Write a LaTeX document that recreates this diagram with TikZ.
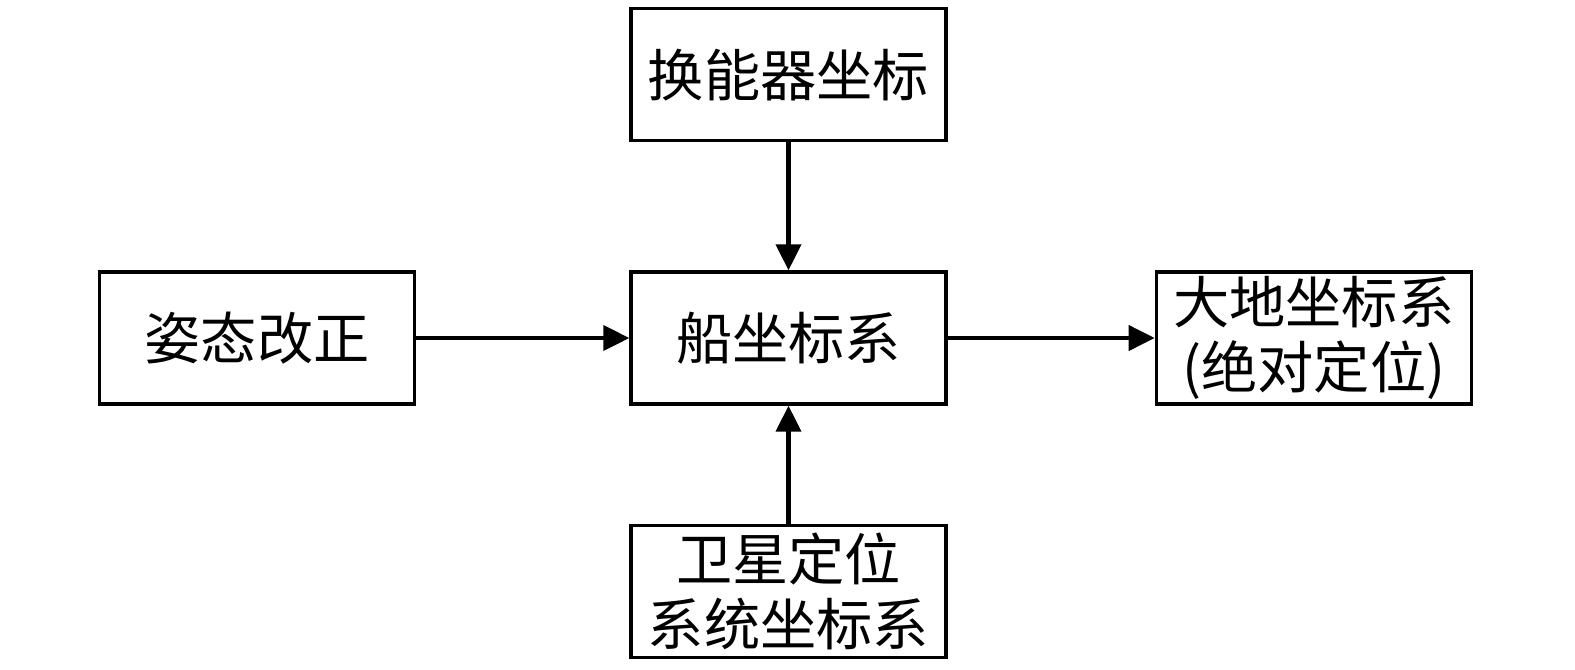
\documentclass[tikz,border=0pt]{standalone}
\usepackage{fontspec}
\newfontfamily\cjk{Noto Sans CJK SC}
\usetikzlibrary{positioning,arrows.meta}

\tikzset{
	coordbox/.style={draw, line width=1.9pt, minimum width=6.3cm, minimum height=2.64cm,
		inner sep=0pt, align=center, font=\cjk\fontsize{32}{37}\selectfont},
	flow/.style={line width=2.3pt, -{Triangle[length=0.52cm,width=0.5cm]}},
}

\begin{document}
\begin{tikzpicture}
	\useasboundingbox (0,0) rectangle (31.5,-13.38);
	\node[coordbox] (ship) at (15.77,-6.76) {船坐标系};
	\node[coordbox, above=2.56cm of ship] (trans) {换能器坐标};
	\node[coordbox, left=4.26cm of ship] (attitude) {姿态改正};
	\node[coordbox, right=4.14cm of ship] (geodetic) {大地坐标系\\(绝对定位)};
	\node[coordbox, below=2.36cm of ship] (gnss) {卫星定位\\系统坐标系};

	\draw[flow] (trans) -- (ship);
	\draw[flow] (gnss) -- (ship);
	\draw[flow] (attitude) -- (ship);
	\draw[flow] (ship) -- (geodetic);
\end{tikzpicture}
\end{document}
